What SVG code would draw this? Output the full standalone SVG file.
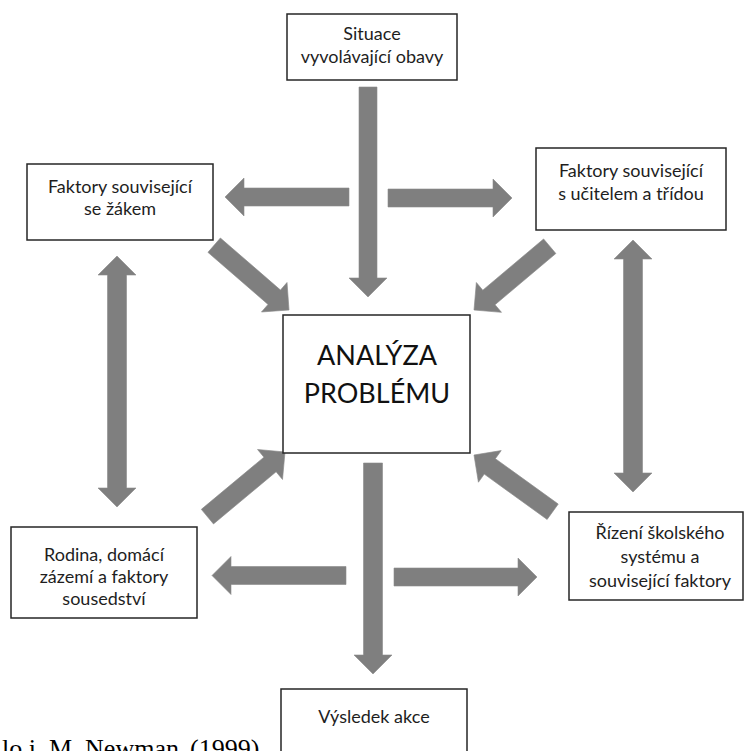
<svg xmlns="http://www.w3.org/2000/svg" width="745" height="751" viewBox="0 0 745 751">
<style>
.box{fill:#fff;stroke:#262626;stroke-width:1.5}
.lbl{font-family:Lato,"Open Sans","Liberation Sans",sans-serif;font-size:18px;fill:#1e1e1e;text-anchor:middle}
.big{font-family:Lato,"Open Sans","Liberation Sans",sans-serif;font-size:27px;fill:#111;text-anchor:middle}
.arr{fill:#7f7f7f;stroke:#8a8a8a;stroke-width:0.6}
.cite{font-family:"Liberation Serif","Times New Roman",serif;font-size:26px;fill:#000}
</style>
<rect width="745" height="751" fill="#fff"/>
<g id="connectors">
<polygon class="arr" points="359,87 377,87 377,278 387,278 368,297 349,278 359,278"/>
<polygon class="arr" points="363.5,463 382.5,463 382.5,655 392,655 373,674 354,655 363.5,655"/>
<polygon class="arr" points="349,188 349,206 244,206 244,216 225,197 244,178 244,188"/>
<polygon class="arr" points="388,189 493,189 493,179 512,198 493,217 493,207 388,207"/>
<polygon class="arr" points="346,566.5 231,566.5 231,556.5 212,575.5 231,594.5 231,584.5 346,584.5"/>
<polygon class="arr" points="394,568 518,568 518,558 537,577 518,596 518,586 394,586"/>
<polygon class="arr" points="117,256 136,275 126.5,275 126.5,488 136,488 117,507 98,488 107.5,488 107.5,275 98,275"/>
<polygon class="arr" points="633,240 652,259 642.5,259 642.5,473 652,473 633,492 614,473 623.5,473 623.5,259 614,259"/>
<polygon class="arr" transform="translate(289,310) rotate(40.9)" points="-99,-9.5 -19.5,-9.5 -19.5,-19.5 0,0 -19.5,19.5 -19.5,9.5 -99,9.5"/>
<polygon class="arr" transform="translate(474,310) rotate(139.9)" points="-99,-9.5 -19.5,-9.5 -19.5,-19.5 0,0 -19.5,19.5 -19.5,9.5 -99,9.5"/>
<polygon class="arr" transform="translate(285,452) rotate(-39.8)" points="-101,-9.5 -19.5,-9.5 -19.5,-19.5 0,0 -19.5,19.5 -19.5,9.5 -101,9.5"/>
<polygon class="arr" transform="translate(474,455) rotate(-144.2)" points="-97,-9.5 -19.5,-9.5 -19.5,-19.5 0,0 -19.5,19.5 -19.5,9.5 -97,9.5"/>
</g>
<g id="situace">
<rect class="box" x="287" y="14" width="170" height="66"/>
<text class="lbl" x="372" y="40">Situace</text>
<text class="lbl" x="372" y="63">vyvolávající obavy</text>
</g>
<g id="zak">
<rect class="box" x="27" y="164" width="186" height="76"/>
<text class="lbl" x="120" y="193">Faktory související</text>
<text class="lbl" x="120" y="215">se žákem</text>
</g>
<g id="ucitel">
<rect class="box" x="536" y="148" width="190" height="82"/>
<text class="lbl" x="631" y="177">Faktory související</text>
<text class="lbl" x="631" y="200">s učitelem a třídou</text>
</g>
<g id="analyza">
<rect class="box" x="283" y="315" width="187" height="138"/>
<text class="big" x="377" y="365">ANALÝZA</text>
<text class="big" x="377" y="403">PROBLÉMU</text>
</g>
<g id="rodina">
<rect class="box" x="11" y="527" width="186" height="91"/>
<text class="lbl" x="104" y="561">Rodina, domácí</text>
<text class="lbl" x="104" y="583">zázemí a faktory</text>
<text class="lbl" x="104" y="605">sousedství</text>
</g>
<g id="rizeni">
<rect class="box" x="569" y="512" width="174" height="88"/>
<text class="lbl" x="660" y="539">Řízení školského</text>
<text class="lbl" x="660" y="563">systému a</text>
<text class="lbl" x="660" y="587">související faktory</text>
</g>
<g id="vysledek">
<rect class="box" x="281" y="689" width="186" height="90"/>
<text class="lbl" x="374" y="723">Výsledek akce</text>
</g>
<text class="cite" x="2" y="757">lo i, M. Newman <tspan x="190">(1999)</tspan></text>
</svg>
